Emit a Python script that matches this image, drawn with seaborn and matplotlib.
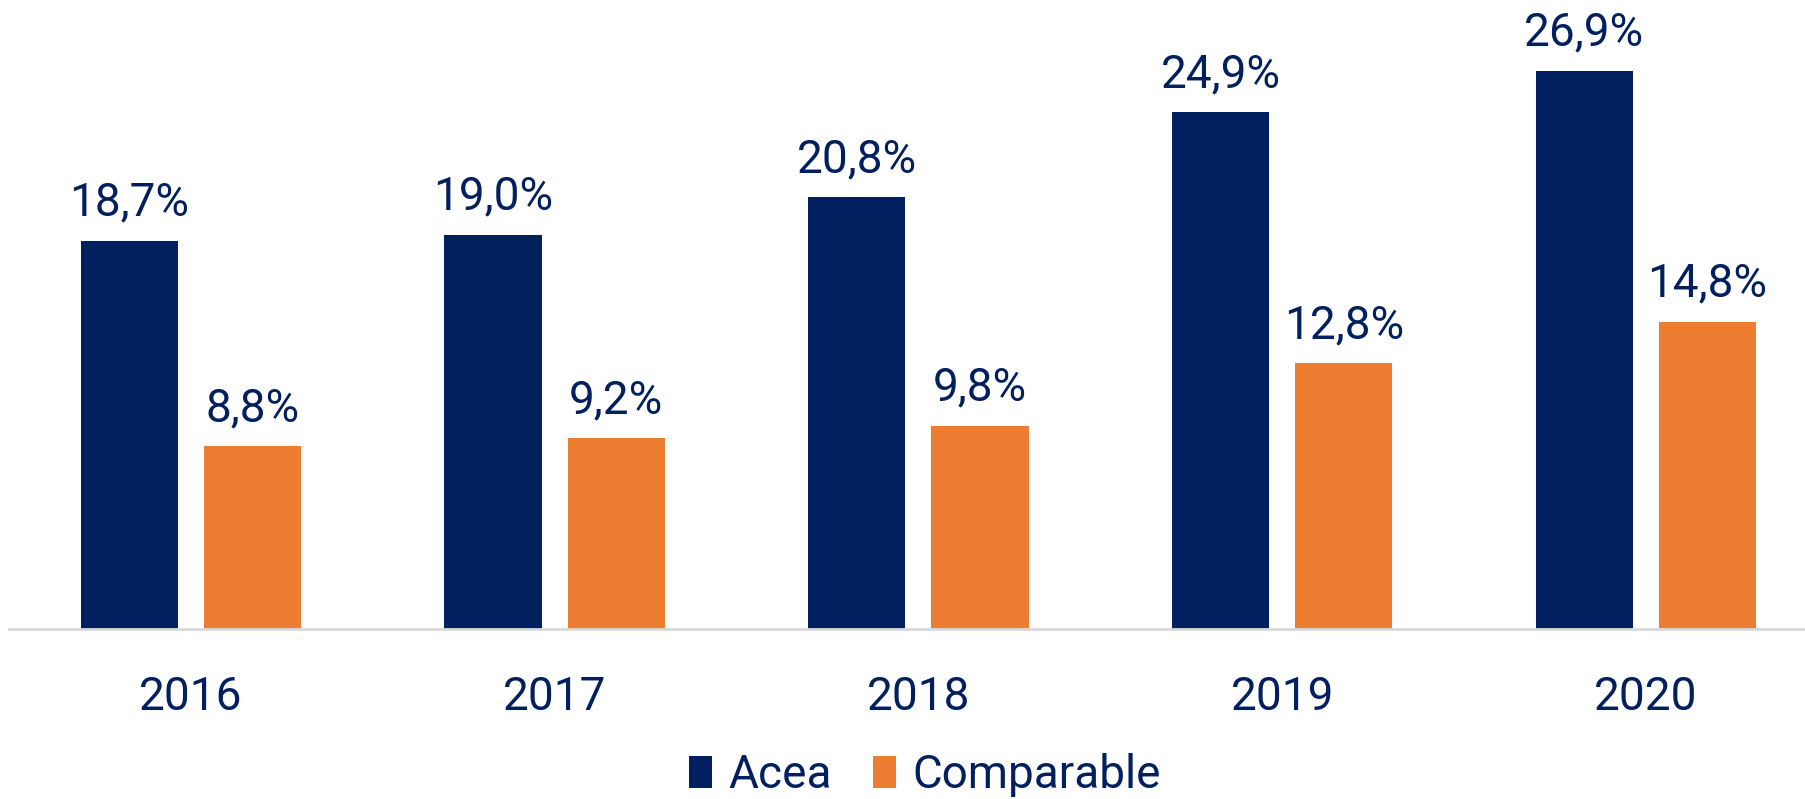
import matplotlib
matplotlib.use("Agg")
import matplotlib.pyplot as plt
from matplotlib import font_manager
import seaborn as sns
import pandas as pd

years = ["2016", "2017", "2018", "2019", "2020"]
acea = [18.7, 19.0, 20.8, 24.9, 26.9]
comparable = [8.8, 9.2, 9.8, 12.8, 14.8]
series_names = ["Acea", "Comparable"]
colors = ["#021F5F", "#ED7D31"]
text_color = "#021F5F"

sns.set_theme(style="white")
names = {f.name for f in font_manager.fontManager.ttflist}
fam = [f for f in ["Liberation Sans Narrow", "Roboto", "DejaVu Sans"] if f in names]
plt.rcParams["font.family"] = fam

df = pd.DataFrame({
    "year": years * 2,
    "value": acea + comparable,
    "series": [series_names[0]] * len(years) + [series_names[1]] * len(years),
})

fig = plt.figure(figsize=(18.06, 7.99), dpi=100)
ax = fig.add_axes([9 / 1806, 170 / 799, 1 - 9 / 1806, 629 / 799])

sns.barplot(data=df, x="year", y="value", hue="series", palette=colors,
            saturation=1, width=0.677, gap=0.21, linewidth=0, ax=ax, legend=True)

fs = 33
for cont in ax.containers:
    for bar in cont:
        h = bar.get_height()
        ax.annotate(f"{h:.1f}".replace(".", ",") + "%",
                    (bar.get_x() + bar.get_width() / 2, h),
                    xytext=(0, 25), textcoords="offset pixels",
                    ha="center", va="baseline", fontsize=fs, color=text_color)

ax.set_xlim(-0.5, 4.44)
ax.set_ylim(0, 30.3)
ax.set_xlabel("")
ax.set_ylabel("")
ax.set_yticks([])
ax.tick_params(axis="x", length=0, pad=33, labelsize=fs, labelcolor=text_color)
for s in ["top", "right", "left"]:
    ax.spines[s].set_visible(False)
ax.spines["bottom"].set_color("#D9D9D9")
ax.spines["bottom"].set_linewidth(2)

handles, labels = ax.get_legend_handles_labels()
ax.legend_.remove()
leg = fig.legend(handles, labels, loc="center", bbox_to_anchor=(925 / 1806, 0.03),
                 ncol=2, frameon=False, fontsize=fs, handlelength=0.5,
                 handleheight=0.7, handletextpad=0.35, columnspacing=0.9,
                 borderaxespad=0)
for t in leg.get_texts():
    t.set_color(text_color)

fig.savefig("out.png", dpi=100)
